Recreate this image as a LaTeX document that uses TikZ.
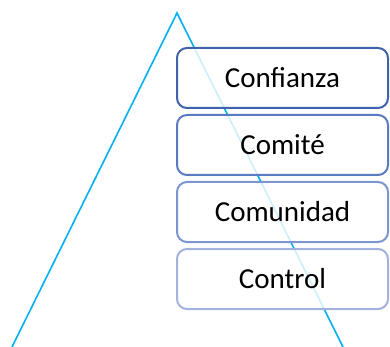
\documentclass[tikz,border=0pt]{standalone}
\usepackage{fontspec}
\setmainfont{Carlito}
\usetikzlibrary{positioning}
\definecolor{L}{HTML}{00B0F0}
\definecolor{A}{HTML}{3F62AC}
\definecolor{B}{HTML}{5A7BC3}
\definecolor{C}{HTML}{7D95CE}
\definecolor{D}{HTML}{A2B2DD}

\begin{document}
\begin{tikzpicture}[x=1pt, y=-1pt, node distance = 7pt,
    level/.style = {draw, line width=2pt, rounded corners=10pt,
      fill=white, fill opacity=0.8, text opacity=1, outer sep=0pt,
      minimum width=211pt, minimum height=60pt, inner sep=0pt,
      font=\fontsize{29}{33}\selectfont}]
      \useasboundingbox (0,0) rectangle (390,347);
      
      \coordinate (apex) at (177,13);
      \coordinate (bl) at (12,347);
      \coordinate (br) at (343,347);
      
      \draw[L, line width=1.6pt] (bl) -- (apex) -- (br);
      
      \node[level, draw=A] (Conf) at (282.5,78) {Confianza};
      
      \node[level, draw=B] (Comi) [below = of Conf] {Comité};
      
      \node[level, draw=C] (Comu) [below = of Comi] {Comunidad};
      
      \node[level, draw=D] (Cont) [below = of Comu] {Control};
    \end{tikzpicture}
\end{document}
